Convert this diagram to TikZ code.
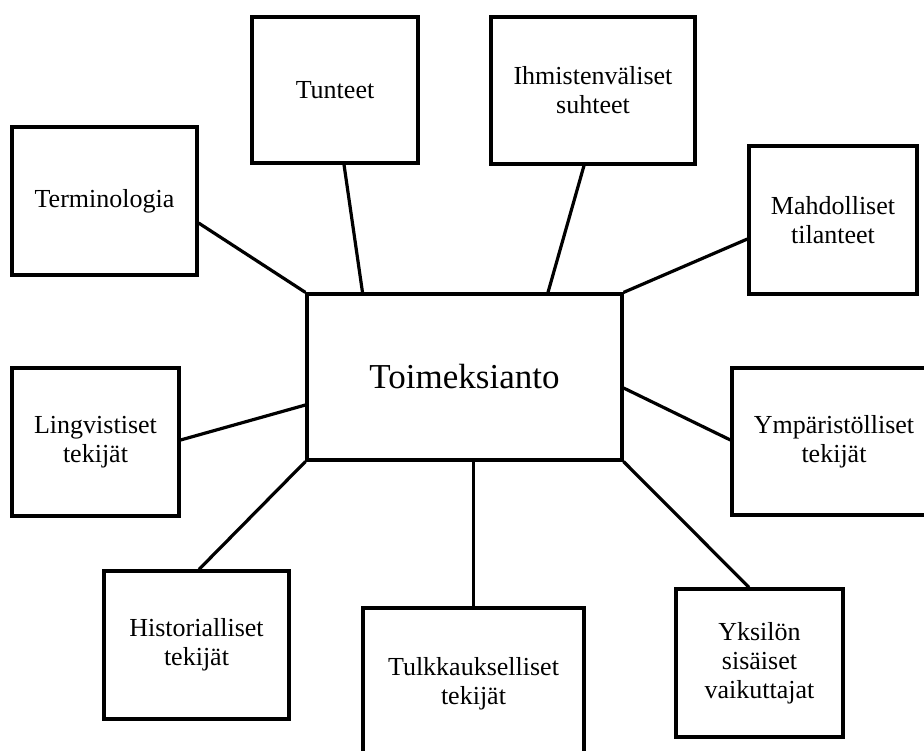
\documentclass[tikz,border=0pt]{standalone}
\usepackage{fontspec}
\setmainfont{Liberation Serif}
\usetikzlibrary{calc}
\tikzset{
  box/.style={draw=black, line width=3.2pt, rectangle, align=center, inner sep=0pt,
    font=\fontsize{26}{29}\selectfont},
  mainbox/.style={box, font=\fontsize{35}{40}\selectfont},
  link/.style={draw=black, line width=3.2pt}
}
\begin{document}
\begin{tikzpicture}[x=1pt,y=-1pt]
\useasboundingbox (0,0) rectangle (924,751);
\clip (0,0) rectangle (924,751);
\fill[white] (0,0) rectangle (924,751);
% nodes
\node[mainbox, minimum width=315pt, minimum height=166pt] (cen) at (464.5,377) {Toimeksianto};
\node[box, minimum width=166pt, minimum height=146pt] (tun) at (335,90) {Tunteet};
\node[box, minimum width=204pt, minimum height=147pt] (ihm) at (593,90.5) {Ihmistenväliset\\suhteet};
\node[box, minimum width=185pt, minimum height=148pt] (term) at (104.5,201) {Terminologia};
\node[box, minimum width=168pt, minimum height=148pt] (mahd) at (833,220) {Mahdolliset\\tilanteet};
\node[box, minimum width=167pt, minimum height=148pt] (ling) at (95.5,442) {Lingvistiset\\tekijät};
\node[box, minimum width=204pt, minimum height=147pt] (ymp) at (834,441.5) {Ympäristölliset\\tekijät};
\node[box, minimum width=185pt, minimum height=148pt] (hist) at (196.5,645) {Historialliset\\tekijät};
\node[box, minimum width=221pt, minimum height=152pt] (tulk) at (473.5,684) {Tulkkaukselliset\\tekijät};
\node[box, minimum width=167pt, minimum height=148pt] (yks) at (759.5,663) {Yksilön\\sisäiset\\vaikuttajat};
% connectors
\draw[link] ([yshift=-22pt]term.east) -- (cen.north west);
\draw[link] ([xshift=9pt]tun.south) -- ([xshift=-102pt]cen.north);
\draw[link] ([xshift=-9pt]ihm.south) -- ([xshift=83.5pt]cen.north);
\draw[link] ([yshift=-19pt]mahd.west) -- (cen.north east);
\draw[link] ([yshift=2pt]ling.east) -- ([yshift=-28pt]cen.west);
\draw[link] ([yshift=-11pt]cen.east) -- ([yshift=1.5pt]ymp.west);
\draw[link] (cen.south west) -- ([xshift=2.5pt]hist.north);
\draw[link] (tulk.north) -- (tulk.north |- cen.south);
\draw[link] (cen.south east) -- ([xshift=-10.5pt]yks.north);
\end{tikzpicture}
\end{document}
